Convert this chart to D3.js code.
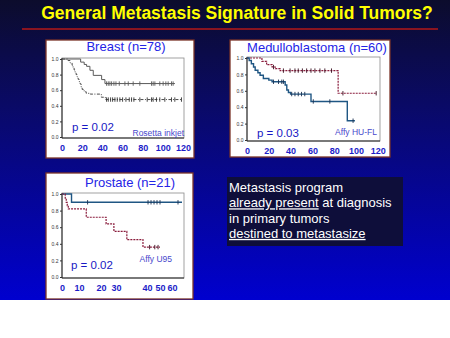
<!DOCTYPE html>
<html><head><meta charset="utf-8">
<script src="https://cdn.jsdelivr.net/npm/d3@7"></script>
<style>html,body{margin:0;padding:0;background:#fff;} svg{display:block;}</style>
</head><body>
<script>
// ---- text ----
const slideTitle = "General Metastasis Signature in Solid Tumors?";
const noteLines = [
  [{t: "Metastasis program", u: false}],
  [{t: "already present", u: true}, {t: " at diagnosis", u: false}],
  [{t: "in primary tumors", u: false}],
  [{t: "destined to metastasize", u: true}]
];

// ---- axis ticks ----
const survTicks = [0, 0.2, 0.4, 0.6, 0.8, 1.0];
const breastTicksX = [0, 20, 40, 60, 80, 100, 120];
const medTicksX = [0, 20, 40, 60, 80, 100, 120];
const prostateTicksX = [0, 10, 20, 30, 40, 50, 60];

// ---- Breast (n=78) ----
const breastGoodTimes = [0, 18.5, 22, 24.4, 27.7, 31, 39.3, 42.6];
const breastGoodSurv  = [1.0, 0.96, 0.93, 0.906, 0.855, 0.79, 0.736, 0.685];
const breastGoodEnd = 112;
const breastGoodCensor = [44.2, 45.9, 47.5, 49.2, 51.5, 53.5, 56.8, 62.4, 65.7, 70.6, 77.2, 88.8, 90.4, 92.1, 97, 100.3, 103, 105.3, 108.6, 110.2];

const breastPoorTimes = [0, 6, 8, 10, 11, 12, 13, 14, 15, 16, 17, 18, 19, 20, 22, 24, 28, 39, 43];
const breastPoorSurv  = [1.0, 0.98, 0.95, 0.92, 0.89, 0.86, 0.83, 0.8, 0.77, 0.74, 0.71, 0.68, 0.64, 0.61, 0.58, 0.56, 0.55, 0.51, 0.48];
const breastPoorEnd = 118;
const breastPoorCensor = [44.2, 45.9, 48.2, 50.2, 52.5, 54.8, 57.4, 60.1, 63.4, 66.7, 69, 71.3, 77.2, 84.5, 88.8, 90.4, 93.7, 97, 102, 108.6, 111.9, 118.5];

// ---- Medulloblastoma (n=60) ----
const medGoodTimes = [0, 13.7, 18, 23, 26, 30.4, 83.6];
const medGoodSurv  = [1.0, 0.96, 0.92, 0.89, 0.87, 0.846, 0.57];
const medGoodEnd = 119;
const medGoodCensor = [24.3, 33.4, 39.5, 44, 47, 50.8, 54.7, 58.7, 62.3, 66.9, 71.4, 77.5, 88, 118.5];

const medPoorTimes = [0, 2, 4, 6, 7.5, 10, 12, 15, 20, 23, 35, 36.5, 38, 40, 58.7, 92];
const medPoorSurv  = [1.0, 0.97, 0.93, 0.89, 0.85, 0.82, 0.79, 0.75, 0.73, 0.71, 0.67, 0.61, 0.58, 0.56, 0.47, 0.235];
const medPoorEnd = 99;
const medPoorCensor = [24.3, 28.9, 31.9, 33.4, 41, 44, 47, 50, 53, 60.8, 76, 97.3];

// ---- Prostate (n=21) ----
const prosGoodTimes = [0, 5.6];
const prosGoodSurv  = [1.0, 0.9];
const prosGoodEnd = 65;
const prosGoodCensor = [13.9, 40.8, 43.1, 45.4, 47.7, 50, 63];

const prosPoorTimes = [0, 1.9, 2.5, 3.1, 3.7, 13.3, 23.4, 28.6, 33.5, 38.7];
const prosPoorSurv  = [1.0, 0.95, 0.9, 0.86, 0.82, 0.72, 0.64, 0.55, 0.45, 0.36];
const prosPoorEnd = 50;
const prosPoorCensor = [42, 46, 48.5];

// ---- drawing ----
const W = 450, H = 338;
const FONT = "'Liberation Sans', Arial, Helvetica, sans-serif";
const svg = d3.select("body").append("svg").attr("width", W).attr("height", H);

const defs = svg.append("defs");
const bg = defs.append("linearGradient").attr("id", "bg")
  .attr("x1", 0).attr("y1", 0).attr("x2", 0).attr("y2", 1);
bg.append("stop").attr("offset", "0%").attr("stop-color", "#0c0c2c");
bg.append("stop").attr("offset", "35%").attr("stop-color", "#0a0a66");
bg.append("stop").attr("offset", "100%").attr("stop-color", "#0000cf");

svg.append("rect").attr("x", 0).attr("y", 0).attr("width", W).attr("height", 300).attr("fill", "url(#bg)");

svg.append("text").attr("x", 237).attr("y", 18.5).attr("text-anchor", "middle")
  .attr("font-family", FONT).attr("font-weight", "bold").attr("font-size", 17.5)
  .attr("fill", "#ffff00").text(slideTitle);
svg.append("line").attr("x1", 22).attr("x2", 438).attr("y1", 29).attr("y2", 29)
  .attr("stroke", "#b41818").attr("stroke-width", 1.5);

function survAt(times, surv, t) {
  const i = d3.bisectRight(times, t) - 1;
  return surv[Math.max(0, i)];
}

function drawCurve(g, x, y, c) {
  const pts = c.times.map((t, i) => [t, c.surv[i]]);
  pts.push([c.end, c.surv[c.surv.length - 1]]);
  const line = d3.line().x(d => x(d[0])).y(d => y(d[1])).curve(d3.curveStepAfter);
  g.append("path").attr("d", line(pts)).attr("fill", "none")
    .attr("stroke", c.color).attr("stroke-width", c.width)
    .attr("stroke-dasharray", c.dash || null);
  g.selectAll(null).data(c.censor).join("line")
    .attr("x1", d => x(d)).attr("x2", d => x(d))
    .attr("y1", d => y(survAt(c.times, c.surv, d)) - 2.2)
    .attr("y2", d => y(survAt(c.times, c.surv, d)) + 2.2)
    .attr("stroke", c.tickColor || c.color).attr("stroke-width", 0.9);
}

function drawPanel(p) {
  const g = svg.append("g");
  g.append("rect").attr("x", p.box[0]).attr("y", p.box[1]).attr("width", p.box[2]).attr("height", p.box[3])
    .attr("fill", "#ffffff").attr("stroke", "#7a3428").attr("stroke-width", 1.3);

  const x = p.x, y = p.y;
  const [xl, xr] = [x.range()[0], x.range()[x.range().length - 1]];
  const [yb, yt] = y.range();

  // plot frame
  g.append("rect").attr("x", xl).attr("y", yt - 1).attr("width", xr - xl).attr("height", yb - yt + 2)
    .attr("fill", "none").attr("stroke", "#8a8a8a").attr("stroke-width", 0.8);
  g.append("line").attr("x1", xl).attr("x2", xl).attr("y1", yt - 1).attr("y2", yb + 1)
    .attr("stroke", "#222").attr("stroke-width", 1);
  g.append("line").attr("x1", xl).attr("x2", xr).attr("y1", yb + 1).attr("y2", yb + 1)
    .attr("stroke", "#222").attr("stroke-width", 1);

  // survival axis
  const ya = g.append("g").attr("transform", `translate(${xl},0)`)
    .call(d3.axisLeft(y).tickValues(survTicks).tickFormat(d3.format(".1f")).tickSize(2).tickPadding(1.5));
  ya.select(".domain").remove();
  ya.selectAll("line").attr("stroke", "#333");
  ya.selectAll("text").attr("font-family", FONT).attr("font-size", 5).attr("fill", "#333");

  // time axis
  const xa = g.append("g").attr("transform", `translate(0,${yb + 1})`)
    .call(d3.axisBottom(x).tickValues(p.ticks).tickSize(0).tickPadding(p.tickPad));
  xa.select(".domain").remove();
  xa.selectAll("text").attr("font-family", FONT).attr("font-size", 9).attr("font-weight", "bold")
    .attr("fill", "#1c1cc8");

  p.curves.forEach(c => drawCurve(g, x, y, c));

  g.append("text").attr("x", p.title[1]).attr("y", p.title[2]).attr("text-anchor", "middle")
    .attr("font-family", FONT).attr("font-size", 13).attr("fill", "#2424e6").text(p.title[0]);
  g.append("text").attr("x", p.pval[1]).attr("y", p.pval[2])
    .attr("font-family", FONT).attr("font-size", 11.5).attr("fill", "#1818c4").text(p.pval[0]);
  g.append("text").attr("x", p.src[1]).attr("y", p.src[2]).attr("text-anchor", "end")
    .attr("font-family", FONT).attr("font-size", 8.5).attr("fill", "#4848cc").text(p.src[0]);
}

drawPanel({
  box: [46, 40, 148, 118],
  x: d3.scaleLinear().domain([0, 121]).range([62, 184]),
  y: d3.scaleLinear().domain([0, 1]).range([137, 59]),
  ticks: breastTicksX, tickPad: 7,
  title: ["Breast (n=78)", 126, 51],
  pval: ["p = 0.02", 72, 131],
  src: ["Rosetta inkjet", 184, 136],
  curves: [
    {times: breastGoodTimes, surv: breastGoodSurv, end: breastGoodEnd, censor: breastGoodCensor, color: "#5a5a5a", width: 1},
    {times: breastPoorTimes, surv: breastPoorSurv, end: breastPoorEnd, censor: breastPoorCensor, color: "#4a4a4a", width: 1, dash: "3,1.5,1,1.5", tickColor: "#333"}
  ]
});

drawPanel({
  box: [230, 40, 160, 117],
  x: d3.scaleLinear().domain([0, 122]).range([247, 380]),
  y: d3.scaleLinear().domain([0, 1]).range([140, 58]),
  ticks: medTicksX, tickPad: 7,
  title: ["Medulloblastoma (n=60)", 317, 52],
  pval: ["p = 0.03", 257, 137],
  src: ["Affy HU-FL", 377, 135],
  curves: [
    {times: medGoodTimes, surv: medGoodSurv, end: medGoodEnd, censor: medGoodCensor, color: "#8a1c3c", width: 1.2, dash: "2,1", tickColor: "#3a1020"},
    {times: medPoorTimes, surv: medPoorSurv, end: medPoorEnd, censor: medPoorCensor, color: "#1f5683", width: 1.4, tickColor: "#1a3050"}
  ]
});

drawPanel({
  box: [46, 173, 147, 126],
  x: d3.scaleLinear().domain(prostateTicksX.concat([66])).range([62, 79, 101, 116, 147, 160, 172, 184]),
  y: d3.scaleLinear().domain([0, 1]).range([277, 194]),
  ticks: prostateTicksX, tickPad: 7,
  title: ["Prostate (n=21)", 130, 187],
  pval: ["p = 0.02", 71, 269],
  src: ["Affy U95", 172, 262],
  curves: [
    {times: prosGoodTimes, surv: prosGoodSurv, end: prosGoodEnd, censor: prosGoodCensor, color: "#1f5683", width: 1.4, tickColor: "#1a3050"},
    {times: prosPoorTimes, surv: prosPoorSurv, end: prosPoorEnd, censor: prosPoorCensor, color: "#8a1c3c", width: 1.2, dash: "2,1", tickColor: "#3a1020"}
  ]
});

// note box
svg.append("rect").attr("x", 227).attr("y", 177).attr("width", 176).attr("height", 69)
  .attr("fill", "#0e0e3a");
const note = svg.append("text").attr("font-family", FONT).attr("font-size", 13).attr("fill", "#ffffff");
noteLines.forEach((ln, i) => {
  const t = note.append("tspan").attr("x", 229).attr("y", 192 + i * 15.3);
  ln.forEach(seg => {
    t.append("tspan").attr("text-decoration", seg.u ? "underline" : null)
      .style("text-decoration", seg.u ? "underline" : null).text(seg.t);
  });
});
</script></body></html>
